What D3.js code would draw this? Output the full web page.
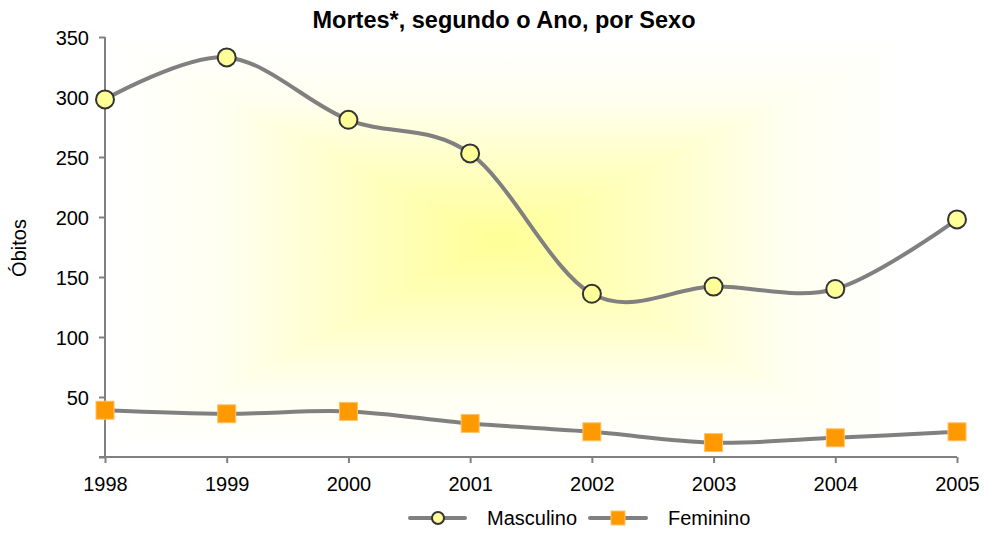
<!DOCTYPE html>
<html>
<head>
<meta charset="utf-8">
<script src="https://cdn.jsdelivr.net/npm/d3@7/dist/d3.min.js"></script>
<style>
  body { margin: 0; background: #fff; }
  svg { display: block; font-family: "Liberation Sans", Arial, sans-serif; }
  .axis path, .axis line { stroke: #808080; stroke-width: 2; }
  .axis text { font-size: 20px; fill: #000; }
</style>
</head>
<body>
<div id="chart"></div>
<script>
// data
const years = ["1998", "1999", "2000", "2001", "2002", "2003", "2004", "2005"];
const masculino = [298, 333, 281, 253, 136, 142, 140, 198];
const feminino = [39, 36, 38, 28, 21, 12, 16, 21];
const yTicks = [0, 50, 100, 150, 200, 250, 300, 350];

const width = 984, height = 533;
const margin = {top: 37, right: 27, bottom: 76, left: 105};

const svg = d3.select("#chart").append("svg")
    .attr("width", width)
    .attr("height", height);

const xScale = d3.scalePoint()
    .domain(years)
    .range([margin.left, width - margin.right]);

const yScale = d3.scaleLinear()
    .domain([0, 350])
    .range([height - margin.bottom, margin.top]);

// plot area background: rectangular "from center" gradient, drawn as 4 triangles
const g = {x0: 110, x1: 905, y0: 40, y1: 452, cx: 500, cy: 240};
const defs = svg.append("defs");
const sides = [
    {id: "gTop", pts: [[g.x0, g.y0], [g.x1, g.y0]], from: [g.cx, g.y0], to: [g.cx, g.cy]},
    {id: "gBot", pts: [[g.x0, g.y1], [g.x1, g.y1]], from: [g.cx, g.y1], to: [g.cx, g.cy]},
    {id: "gLeft", pts: [[g.x0, g.y0], [g.x0, g.y1]], from: [g.x0, g.cy], to: [g.cx, g.cy]},
    {id: "gRight", pts: [[g.x1, g.y0], [g.x1, g.y1]], from: [g.x1, g.cy], to: [g.cx, g.cy]}
];
sides.forEach(s => {
    const lg = defs.append("linearGradient")
        .attr("id", s.id)
        .attr("gradientUnits", "userSpaceOnUse")
        .attr("x1", s.from[0]).attr("y1", s.from[1])
        .attr("x2", s.to[0]).attr("y2", s.to[1]);
    lg.append("stop").attr("offset", 0).attr("stop-color", "#ffffff");
    lg.append("stop").attr("offset", 0.3).attr("stop-color", "#fffff0");
    lg.append("stop").attr("offset", 0.65).attr("stop-color", "#ffffc2");
    lg.append("stop").attr("offset", 1).attr("stop-color", "#ffff96");
    svg.append("polygon")
        .attr("points", [s.pts[0], s.pts[1], [g.cx, g.cy]].map(p => p.join(",")).join(" "))
        .attr("fill", `url(#${s.id})`)
        .attr("stroke", `url(#${s.id})`)
        .attr("stroke-width", 0.6);
});

// axes
svg.append("g")
    .attr("class", "axis")
    .attr("transform", `translate(${margin.left},0)`)
    .call(d3.axisLeft(yScale).tickValues(yTicks).tickSize(6).tickPadding(10)
        .tickFormat(d => d === 0 ? "" : d))
    .call(a => a.select(".domain").attr("d", `M0,${yScale(0)}V${yScale(350)}`))
    .selectAll("text").attr("dy", "0.36em");

svg.append("g")
    .attr("class", "axis")
    .attr("transform", `translate(0,${yScale(0)})`)
    .call(d3.axisBottom(xScale).tickSize(6).tickPadding(14))
    .call(a => a.select(".domain").attr("d", `M${margin.left - 6},0H${width - margin.right}`));

// lines
const line = d3.line()
    .x((d, i) => xScale(years[i]))
    .y(d => yScale(d))
    .curve(d3.curveCardinal.tension(0));

[masculino, feminino].forEach(series => {
    svg.append("path")
        .datum(series)
        .attr("d", line)
        .attr("fill", "none")
        .attr("stroke", "#808080")
        .attr("stroke-width", 4);
});

// markers
svg.selectAll(".dot-m")
    .data(masculino)
    .enter()
    .append("circle")
    .attr("class", "dot-m")
    .attr("cx", (d, i) => xScale(years[i]))
    .attr("cy", d => yScale(d))
    .attr("r", 9)
    .attr("fill", "#ffff99")
    .attr("stroke", "#333333")
    .attr("stroke-width", 2);

const sq = 18;
svg.selectAll(".dot-f")
    .data(feminino)
    .enter()
    .append("rect")
    .attr("class", "dot-f")
    .attr("x", (d, i) => xScale(years[i]) - sq / 2)
    .attr("y", d => yScale(d) - sq / 2)
    .attr("width", sq)
    .attr("height", sq)
    .attr("fill", "#ff9900")
    .attr("stroke", "#ffc266")
    .attr("stroke-width", 1);

// title and axis label
svg.append("text")
    .attr("x", 504)
    .attr("y", 28)
    .attr("text-anchor", "middle")
    .style("font-size", "23.5px")
    .style("font-weight", "bold")
    .text("Mortes*, segundo o Ano, por Sexo");

svg.append("text")
    .attr("transform", "translate(26,248) rotate(-90)")
    .attr("text-anchor", "middle")
    .style("font-size", "20px")
    .text("Óbitos");

// legend
const legend = svg.append("g");
legend.append("line")
    .attr("x1", 410).attr("x2", 465).attr("y1", 518).attr("y2", 518)
    .attr("stroke", "#808080").attr("stroke-width", 4).attr("stroke-linecap", "round");
legend.append("circle")
    .attr("cx", 438).attr("cy", 518).attr("r", 6)
    .attr("fill", "#ffff99").attr("stroke", "#333333").attr("stroke-width", 2);
legend.append("text")
    .attr("x", 487).attr("y", 525)
    .style("font-size", "20px")
    .text("Masculino");

legend.append("line")
    .attr("x1", 590).attr("x2", 646).attr("y1", 518).attr("y2", 518)
    .attr("stroke", "#808080").attr("stroke-width", 4).attr("stroke-linecap", "round");
legend.append("rect")
    .attr("x", 611).attr("y", 511).attr("width", 14).attr("height", 14)
    .attr("fill", "#ff9900").attr("stroke", "#ffc266").attr("stroke-width", 1);
legend.append("text")
    .attr("x", 668).attr("y", 525)
    .style("font-size", "20px")
    .text("Feminino");
</script>
</body>
</html>
